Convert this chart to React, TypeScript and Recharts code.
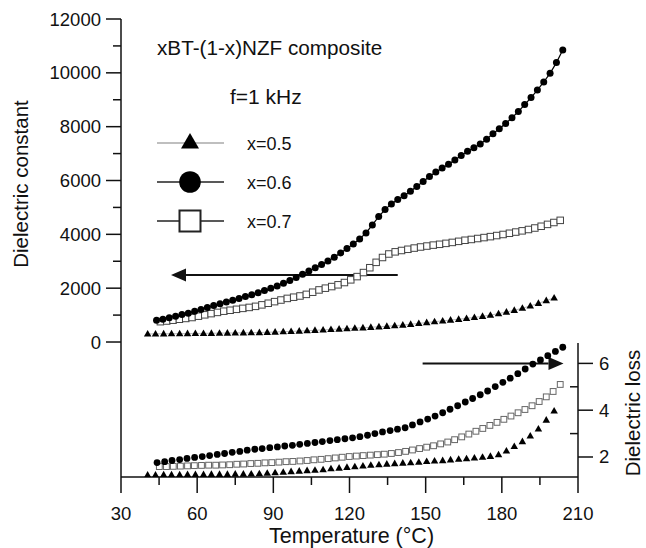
import React from "react";
import { ComposedChart, Line, XAxis, YAxis, ReferenceLine, Legend } from "recharts";

const FONT = '"Liberation Sans", Arial, Helvetica, sans-serif';
const INK = "#111";

// x = 0.5 (triangles), same temperatures in both panels
const temp05 = [
  40.5, 43.6, 46.8, 49.9, 53.1, 56.2, 59.3, 62.5, 65.6, 68.8, 71.9, 75.0, 78.2,
  81.3, 84.5, 87.6, 90.7, 93.9, 97.0, 100.2, 103.3, 106.4, 109.6, 112.7, 115.9,
  119.0, 122.1, 125.3, 128.4, 131.6, 134.7, 137.8, 141.0, 144.1, 147.3, 150.4,
  153.5, 156.7, 159.8, 163.0, 166.1, 169.2, 172.4, 175.5, 178.7, 181.8, 184.9,
  188.1, 191.2, 194.4, 197.5, 200.6,
];
const eps05 = [
  300, 303, 306, 309, 312, 315, 318, 321, 325, 329, 333, 337, 341, 345, 352, 362,
  372, 383, 395, 408, 421, 435, 450, 466, 482, 498, 514, 530, 548, 566, 585, 605,
  630, 660, 690, 722, 755, 785, 815, 845, 878, 915, 955, 1000, 1055, 1115, 1180,
  1255, 1340, 1440, 1540, 1640,
];
const loss05 = [
  1.23, 1.23, 1.24, 1.24, 1.24, 1.25, 1.25, 1.25, 1.26, 1.26, 1.26, 1.27, 1.27,
  1.28, 1.29, 1.31, 1.33, 1.35, 1.38, 1.4, 1.42, 1.44, 1.46, 1.5, 1.53, 1.56,
  1.59, 1.62, 1.65, 1.67, 1.7, 1.72, 1.74, 1.76, 1.78, 1.81, 1.83, 1.85, 1.88,
  1.91, 1.93, 1.96, 1.99, 2.03, 2.1, 2.26, 2.45, 2.66, 2.9, 3.2, 3.58, 3.97,
];

// x = 0.6 (circles)
const temp06 = [
  44, 46.5, 49, 51.5, 54, 56.5, 59, 61.5, 64, 66.5, 69, 71.5, 74, 76.5, 79, 81.5,
  84, 86.5, 89, 91.5, 94, 96.5, 99, 101.5, 104, 106.5, 109, 111.5, 114, 116.5,
  119, 121.5, 124, 126.5, 129, 131.5, 134, 136.5, 139, 141.5, 144, 146.5, 149,
  151.5, 154, 156.5, 159, 161.5, 164, 166.5, 169, 171.5, 174, 176.5, 179, 181.5,
  184, 186.5, 189, 191.5, 194, 196.5, 199, 201.5, 204,
];
const eps06 = [
  805, 850, 900, 960, 1020, 1073, 1140, 1210, 1285, 1355, 1425, 1490, 1555, 1620,
  1690, 1755, 1830, 1910, 1995, 2085, 2180, 2285, 2400, 2515, 2640, 2755, 2875,
  3010, 3150, 3310, 3470, 3640, 3830, 4050, 4350, 4660, 4920, 5130, 5290, 5430,
  5600, 5780, 5960, 6150, 6320, 6460, 6600, 6760, 6930, 7090, 7220, 7360, 7530,
  7740, 7920, 8120, 8330, 8560, 8820, 9080, 9360, 9660, 9980, 10380, 10850,
];
const temp06Loss = [
  44.2, 47.2, 50.1, 53.1, 56.0, 59.0, 62.0, 64.9, 67.9, 70.8, 73.8, 76.8, 79.7,
  82.7, 85.6, 88.6, 91.6, 94.5, 97.5, 100.4, 103.4, 106.4, 109.3, 112.3, 115.2,
  118.2, 121.2, 124.1, 127.1, 130.0, 133.0, 136.0, 138.9, 141.9, 144.8, 147.8,
  150.8, 153.7, 156.7, 159.6, 162.6, 165.6, 168.5, 171.5, 174.4, 177.4, 180.4,
  183.3, 186.3, 189.2, 192.2, 195.2, 198.1, 201.1, 204.0,
];
const loss06 = [
  1.76, 1.8, 1.85, 1.89, 1.94, 1.98, 2.02, 2.06, 2.11, 2.15, 2.2, 2.24, 2.29,
  2.33, 2.36, 2.4, 2.43, 2.47, 2.5, 2.54, 2.58, 2.62, 2.66, 2.7, 2.74, 2.78, 2.82,
  2.87, 2.93, 3.0, 3.07, 3.13, 3.19, 3.25, 3.37, 3.5, 3.62, 3.75, 3.89, 4.04,
  4.19, 4.35, 4.5, 4.66, 4.82, 5.01, 5.19, 5.37, 5.56, 5.76, 5.97, 6.15, 6.33,
  6.51, 6.69,
];

// x = 0.7 (open squares)
const temp07 = [
  45.5, 48, 50.5, 53, 55.5, 58, 60.5, 63, 65.5, 68, 70.5, 73, 75.5, 78, 80.5, 83,
  85.5, 88, 90.5, 93, 95.5, 98, 100.5, 103, 105.5, 108, 110.5, 113, 115.5, 118,
  120.5, 123, 125.5, 128, 130.5, 133, 135.5, 138, 140.5, 143, 145.5, 148, 150.5,
  153, 155.5, 158, 160.5, 163, 165.5, 168, 170.5, 173, 175.5, 178, 180.5, 183,
  185.5, 188, 190.5, 193, 195.5, 198, 200.5, 203,
];
const eps07 = [
  755, 780, 810, 845, 875, 910, 960, 1010, 1055, 1100, 1145, 1180, 1215, 1250,
  1285, 1325, 1380, 1440, 1500, 1560, 1620, 1665, 1710, 1770, 1850, 1935, 2000,
  2060, 2125, 2210, 2310, 2430, 2580, 2760, 2960, 3140, 3270, 3350, 3400, 3445,
  3490, 3530, 3565, 3600, 3630, 3665, 3700, 3740, 3780, 3810, 3845, 3880, 3915,
  3955, 3995, 4040, 4085, 4130, 4180, 4235, 4300, 4370, 4440, 4520,
];
const temp07Loss = [
  45.1, 47.9, 50.6, 53.4, 56.2, 58.9, 61.7, 64.5, 67.3, 70.0, 72.8, 75.6, 78.3,
  81.1, 83.9, 86.7, 89.4, 92.2, 95.0, 97.7, 100.5, 103.3, 106.0, 108.8, 111.6,
  114.4, 117.1, 119.9, 122.7, 125.4, 128.2, 131.0, 133.7, 136.5, 139.3, 142.1,
  144.8, 147.6, 150.4, 153.1, 155.9, 158.7, 161.4, 164.2, 167.0, 169.8, 172.5,
  175.3, 178.1, 180.8, 183.6, 186.4, 189.1, 191.9, 194.7, 197.5, 200.2, 203.0,
];
const loss07 = [
  1.59, 1.59, 1.6, 1.61, 1.62, 1.63, 1.64, 1.65, 1.65, 1.66, 1.67, 1.69, 1.7,
  1.72, 1.73, 1.75, 1.76, 1.78, 1.8, 1.81, 1.83, 1.85, 1.88, 1.9, 1.93, 1.96,
  1.99, 2.02, 2.04, 2.06, 2.08, 2.1, 2.12, 2.15, 2.19, 2.24, 2.3, 2.36, 2.42,
  2.48, 2.56, 2.64, 2.74, 2.86, 2.98, 3.1, 3.22, 3.35, 3.48, 3.61, 3.75, 3.89,
  4.03, 4.19, 4.37, 4.57, 4.8, 5.1,
];

const xTicks = [30, 45, 60, 75, 90, 105, 120, 135, 150, 165, 180, 195, 210];
const epsTicks = [0, 1000, 2000, 3000, 4000, 5000, 6000, 7000, 8000, 9000, 10000, 11000, 12000];
const lossTicks = [2, 3, 4, 5, 6];
const legendNames = ["x=0.5", "x=0.6", "x=0.7"];

// arrows: [from T, to T, level]
const epsArrow = [139, 49.7, 2490];
const lossArrow = [148.8, 204.3, 6.0];
const lossAxisSpan = [1.145, 6.87];

const rows = (t: number[], v: number[]) => t.map((x, i) => ({ t: x, v: v[i] }));

const triDot = (w: number, fill: string) => (p: any) => {
  const { cx, cy, index } = p;
  if (cx == null || cy == null) return <g key={index} />;
  const h = w * 0.88;
  return (
    <path
      key={index}
      d={`M${cx},${cy - h * 0.6}L${cx + w / 2},${cy + h * 0.4}L${cx - w / 2},${cy + h * 0.4}Z`}
      fill={fill}
    />
  );
};
const circleDot = (r: number) => (p: any) => {
  const { cx, cy, index } = p;
  if (cx == null || cy == null) return <g key={index} />;
  return <circle key={index} cx={cx} cy={cy} r={r} fill="#000" />;
};
const squareDot = (s: number, stroke: string) => (p: any) => {
  const { cx, cy, index } = p;
  if (cx == null || cy == null) return <g key={index} />;
  return (
    <rect key={index} x={cx - s / 2} y={cy - s / 2} width={s} height={s} fill="#fff" stroke={stroke} strokeWidth={1} />
  );
};

const XTick = (p: any) => {
  const { x, y, payload } = p;
  const major = payload.value % 30 === 0;
  return (
    <g>
      <line x1={x} x2={x} y1={y} y2={y + (major ? 16 : 8)} stroke={INK} strokeWidth={1.5} />
      {major && (
        <text x={x} y={y + 43} textAnchor="middle" fontSize={18.5} fill={INK} fontFamily={FONT}>
          {payload.value}
        </text>
      )}
    </g>
  );
};

const EpsTick = (p: any) => {
  const { x, y, payload } = p;
  const major = payload.value % 2000 === 0;
  return (
    <g>
      <line x1={x - (major ? 15 : 8)} x2={x} y1={y} y2={y} stroke={INK} strokeWidth={1.5} />
      {major && (
        <text x={x - 20} y={y + 6.5} textAnchor="end" fontSize={18.5} fill={INK} fontFamily={FONT}>
          {payload.value}
        </text>
      )}
    </g>
  );
};

const LossTick = (p: any) => {
  const { x, y, payload } = p;
  const major = payload.value % 2 === 0;
  return (
    <g>
      <line x1={major ? x : x - 8} x2={major ? x + 15 : x} y1={y} y2={y} stroke={INK} strokeWidth={1.5} />
      {major && (
        <text x={x + 21} y={y + 6.5} textAnchor="start" fontSize={18.5} fill={INK} fontFamily={FONT}>
          {payload.value}
        </text>
      )}
    </g>
  );
};

const arrowShape = (p: any) => {
  const { x1, y1, x2, y2 } = p;
  if ([x1, y1, x2, y2].some((n) => n == null || isNaN(n))) return <g />;
  const dx = x2 - x1;
  const dy = y2 - y1;
  const len = Math.hypot(dx, dy) || 1;
  const ux = dx / len;
  const uy = dy / len;
  const hl = 15;
  const hw = 6.5;
  const bx = x2 - ux * hl;
  const by = y2 - uy * hl;
  return (
    <g>
      <line x1={x1} y1={y1} x2={bx} y2={by} stroke={INK} strokeWidth={2} />
      <path d={`M${x2},${y2}L${bx - uy * hw},${by + ux * hw}L${bx + uy * hw},${by - ux * hw}Z`} fill={INK} />
    </g>
  );
};

const axisLineShape = (p: any) => {
  const { x1, y1, x2, y2 } = p;
  return <line x1={x1} y1={y1} x2={x2} y2={y2} stroke={INK} strokeWidth={1.5} />;
};

const LegendBox = () => (
  <svg width={646} height={548} style={{ display: "block" }} fontFamily={FONT}>
    <text x={157} y={55} fontSize={20.7} fill={INK}>
      xBT-(1-x)NZF composite
    </text>
    <text x={230} y={104} fontSize={21} fill={INK}>
      f=1 kHz
    </text>
    {legendNames.map((name, i) => {
      const y = 143 + i * 39;
      return (
        <g key={name}>
          <line x1={157} x2={224} y1={y} y2={y} stroke={i === 0 ? "#aaa" : "#222"} strokeWidth={1.5} />
          {i === 0 && <path d={`M190,${y - 10}L199,${y + 5.5}L181,${y + 5.5}Z`} fill="#000" />}
          {i === 1 && <circle cx={190} cy={y} r={10.8} fill="#000" />}
          {i === 2 && (
            <rect x={179.5} y={y - 10.5} width={21} height={21} fill="#fff" stroke="#222" strokeWidth={2} />
          )}
          <text x={247} y={y + 6.5} fontSize={18} fill={INK}>
            {name}
          </text>
        </g>
      );
    })}
  </svg>
);

export default function App() {
  return (
    <div style={{ position: "absolute", left: 0, top: 0, width: 646, height: 548, background: "#fff" }}>
      <ComposedChart width={646} height={548} margin={{ top: 19, right: 0, bottom: 0, left: 0 }}>
        <XAxis
          type="number"
          dataKey="t"
          domain={[30, 210]}
          ticks={xTicks}
          interval={0}
          allowDataOverflow
          height={71}
          tickSize={0}
          tickMargin={0}
          tickLine={false}
          tick={XTick}
          axisLine={{ stroke: INK, strokeWidth: 1.5 }}
          label={(p: any) => {
            const vb = p.viewBox || { x: 121, y: 477, width: 457 };
            return (
              <text x={vb.x + vb.width / 2 + 2} y={vb.y + 66} textAnchor="middle" fontSize={21.5} fill={INK} fontFamily={FONT}>
                Temperature (°C)
              </text>
            );
          }}
        />
        <YAxis
          yAxisId="left"
          type="number"
          domain={[-5015, 12000]}
          ticks={epsTicks}
          interval={0}
          allowDataOverflow
          width={121}
          tickSize={0}
          tickMargin={0}
          tickLine={false}
          tick={EpsTick}
          axisLine={{ stroke: INK, strokeWidth: 1.5 }}
          label={() => (
            <text
              x={28}
              y={184}
              transform="rotate(-90 28 184)"
              textAnchor="middle"
              fontSize={20.5}
              fill={INK}
              fontFamily={FONT}
            >
              Dielectric constant
            </text>
          )}
        />
        <YAxis
          yAxisId="right"
          orientation="right"
          type="number"
          domain={[1.145, 20.718]}
          ticks={lossTicks}
          interval={0}
          allowDataOverflow
          width={68}
          tickSize={0}
          tickMargin={0}
          tickLine={false}
          tick={LossTick}
          axisLine={false}
          label={() => (
            <text
              x={640}
              y={413}
              transform="rotate(-90 640 413)"
              textAnchor="middle"
              fontSize={20.5}
              fill={INK}
              fontFamily={FONT}
            >
              Dielectric loss
            </text>
          )}
        />

        <ReferenceLine
          yAxisId="right"
          ifOverflow="visible"
          segment={[
            { x: 210, y: lossAxisSpan[0] },
            { x: 210, y: lossAxisSpan[1] },
          ]}
          shape={axisLineShape}
        />

        <Line
          data={rows(temp05, eps05)}
          dataKey="v"
          yAxisId="left"
          stroke="#bbb"
          strokeWidth={1}
          dot={triDot(7.5, "#000")}
          activeDot={false}
          isAnimationActive={false}
        />
        <Line
          data={rows(temp07, eps07)}
          dataKey="v"
          yAxisId="left"
          stroke="#222"
          strokeWidth={1}
          dot={squareDot(6.5, "#444")}
          activeDot={false}
          isAnimationActive={false}
        />
        <Line
          data={rows(temp06, eps06)}
          dataKey="v"
          yAxisId="left"
          stroke="#000"
          strokeWidth={1.2}
          dot={circleDot(3.5)}
          activeDot={false}
          isAnimationActive={false}
        />

        <Line
          data={rows(temp05, loss05)}
          dataKey="v"
          yAxisId="right"
          stroke="none"
          dot={triDot(7.5, "#000")}
          activeDot={false}
          isAnimationActive={false}
        />
        <Line
          data={rows(temp07Loss, loss07)}
          dataKey="v"
          yAxisId="right"
          stroke="#bbb"
          strokeWidth={0.8}
          dot={squareDot(5.8, "#666")}
          activeDot={false}
          isAnimationActive={false}
        />
        <Line
          data={rows(temp06Loss, loss06)}
          dataKey="v"
          yAxisId="right"
          stroke="none"
          dot={circleDot(3.4)}
          activeDot={false}
          isAnimationActive={false}
        />

        <ReferenceLine
          yAxisId="left"
          ifOverflow="visible"
          segment={[
            { x: epsArrow[0], y: epsArrow[2] },
            { x: epsArrow[1], y: epsArrow[2] },
          ]}
          shape={arrowShape}
        />
        <ReferenceLine
          yAxisId="right"
          ifOverflow="visible"
          segment={[
            { x: lossArrow[0], y: lossArrow[2] },
            { x: lossArrow[1], y: lossArrow[2] },
          ]}
          shape={arrowShape}
        />

        <Legend
          layout="vertical"
          align="center"
          verticalAlign="middle"
          wrapperStyle={{ left: 0, top: 0, width: 646, height: 548, pointerEvents: "none" }}
          content={() => <LegendBox />}
        />
      </ComposedChart>
    </div>
  );
}
